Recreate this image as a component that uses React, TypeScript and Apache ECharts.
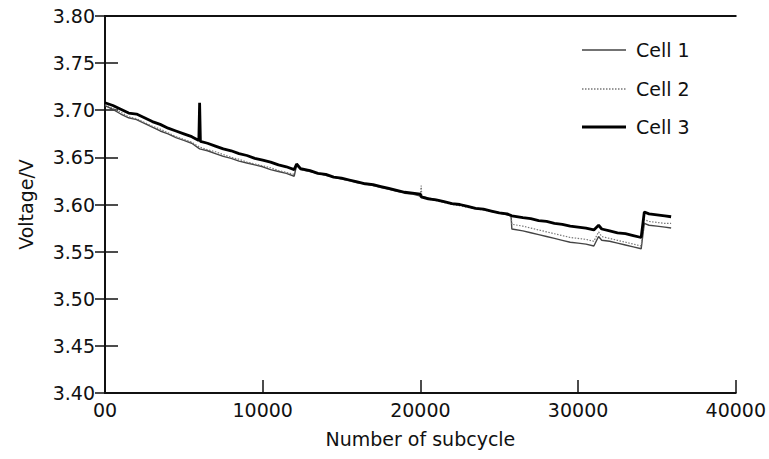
import React, { useEffect, useRef } from "react";
import * as echarts from "echarts";

const cell3X = [0, 500, 1000, 1500, 2000, 2500, 3000, 3500, 4000, 4500, 5000, 5500, 5950, 6000, 6050, 6500, 7000, 7500, 8000, 8500, 9000, 9500, 10000, 10500, 11000, 11500, 12000, 12150, 12400, 13000, 13500, 14000, 14500, 15000, 15500, 16000, 16500, 17000, 17500, 18000, 18500, 19000, 19500, 20000, 20050, 20500, 21000, 21500, 22000, 22500, 23000, 23500, 24000, 24500, 25000, 25500, 25800, 26500, 27000, 27500, 28000, 28500, 29000, 29500, 30000, 30500, 31000, 31300, 31500, 32000, 32500, 33000, 33500, 34000, 34200, 34500, 35000, 35500, 35900];
const cell3Y = [3.708, 3.705, 3.701, 3.697, 3.696, 3.692, 3.688, 3.685, 3.681, 3.678, 3.675, 3.672, 3.668, 3.708, 3.667, 3.665, 3.662, 3.659, 3.657, 3.654, 3.652, 3.649, 3.647, 3.645, 3.642, 3.640, 3.637, 3.643, 3.638, 3.636, 3.633, 3.632, 3.629, 3.628, 3.626, 3.624, 3.622, 3.621, 3.619, 3.617, 3.615, 3.613, 3.612, 3.611, 3.608, 3.606, 3.605, 3.603, 3.601, 3.600, 3.598, 3.596, 3.595, 3.593, 3.591, 3.590, 3.588, 3.586, 3.585, 3.583, 3.582, 3.580, 3.579, 3.577, 3.576, 3.575, 3.573, 3.578, 3.574, 3.572, 3.570, 3.569, 3.567, 3.565, 3.592, 3.590, 3.589, 3.588, 3.587];

const cell1X = [0, 500, 1000, 1500, 2000, 2500, 3000, 3500, 4000, 4500, 5000, 5500, 6000, 6500, 7000, 7500, 8000, 8500, 9000, 9500, 10000, 10500, 11000, 11500, 12000, 12150, 12400, 13000, 13500, 14000, 14500, 15000, 15500, 16000, 16500, 17000, 17500, 18000, 18500, 19000, 19500, 20000, 20500, 21000, 21500, 22000, 22500, 23000, 23500, 24000, 24500, 25000, 25500, 25750, 25800, 26500, 27000, 27500, 28000, 28500, 29000, 29500, 30000, 30500, 31000, 31300, 31500, 32000, 32500, 33000, 33500, 34000, 34200, 34500, 35000, 35500, 35900];
const cell1Y = [3.705, 3.701, 3.696, 3.692, 3.690, 3.686, 3.682, 3.678, 3.675, 3.671, 3.668, 3.665, 3.659, 3.657, 3.654, 3.651, 3.649, 3.646, 3.644, 3.642, 3.640, 3.637, 3.635, 3.633, 3.630, 3.642, 3.637, 3.635, 3.633, 3.631, 3.629, 3.627, 3.625, 3.623, 3.622, 3.620, 3.618, 3.616, 3.614, 3.612, 3.611, 3.609, 3.607, 3.605, 3.603, 3.601, 3.600, 3.598, 3.596, 3.595, 3.593, 3.591, 3.589, 3.588, 3.574, 3.572, 3.570, 3.568, 3.566, 3.564, 3.562, 3.560, 3.559, 3.558, 3.556, 3.566, 3.562, 3.561, 3.559, 3.557, 3.555, 3.553, 3.580, 3.578, 3.577, 3.576, 3.575];

const cell2X = [0, 500, 1000, 1500, 2000, 2500, 3000, 3500, 4000, 4500, 5000, 5500, 6000, 6500, 7000, 7500, 8000, 8500, 9000, 9500, 10000, 10500, 11000, 11500, 12000, 12150, 12400, 13000, 14000, 15000, 16000, 17000, 18000, 19000, 20000, 20050, 20100, 21000, 22000, 23000, 24000, 25000, 25750, 25800, 26500, 27000, 27500, 28000, 28500, 29000, 29500, 30000, 30500, 31000, 31300, 31500, 32000, 32500, 33000, 33500, 34000, 34200, 34500, 35000, 35500, 35900];
const cell2Y = [3.706, 3.702, 3.698, 3.693, 3.691, 3.687, 3.683, 3.680, 3.676, 3.672, 3.669, 3.666, 3.661, 3.658, 3.656, 3.653, 3.650, 3.648, 3.645, 3.643, 3.641, 3.639, 3.636, 3.634, 3.632, 3.641, 3.637, 3.635, 3.631, 3.627, 3.624, 3.620, 3.617, 3.613, 3.610, 3.620, 3.607, 3.604, 3.600, 3.597, 3.594, 3.591, 3.588, 3.579, 3.577, 3.575, 3.573, 3.571, 3.569, 3.567, 3.565, 3.564, 3.563, 3.561, 3.571, 3.566, 3.564, 3.562, 3.560, 3.558, 3.556, 3.584, 3.582, 3.581, 3.580, 3.580];

const seriesNames = ["Cell 1", "Cell 2", "Cell 3"];
const xTicks = [0, 10000, 20000, 30000, 40000];
const xTickLabels = ["00", "10000", "20000", "30000", "40000"];

const zip = (xs: number[], ys: number[]) => xs.map((x, i) => [x, ys[i]]);

const FONT = "'DejaVu Sans', sans-serif";
const INK = "#111";

const lineStyles = [
  { stroke: "#444", lineWidth: 1.5, lineDash: null as any },
  { stroke: "#777", lineWidth: 1.3, lineDash: [1.5, 1.5] },
  { stroke: "#000", lineWidth: 2.8, lineDash: null as any },
];

export default function App() {
  const ref = useRef<HTMLDivElement>(null);
  useEffect(() => {
    if (!ref.current) return;
    const chart = echarts.init(ref.current, null, { renderer: "svg" });
    const axisLine = { show: true, lineStyle: { color: INK, width: 2 } };
    const legendRowsY = [50, 89, 127];
    const legendGraphics: any[] = [];
    seriesNames.forEach((name, i) => {
      legendGraphics.push({
        type: "line",
        shape: { x1: 582, y1: legendRowsY[i], x2: 626, y2: legendRowsY[i] },
        style: { ...lineStyles[i] },
      });
      legendGraphics.push({
        type: "text",
        x: 636,
        y: legendRowsY[i],
        style: { text: name, font: `19px ${FONT}`, fill: INK, verticalAlign: "middle", align: "left" },
      });
    });
    chart.setOption({
      animation: false,
      backgroundColor: "#fff",
      textStyle: { fontFamily: FONT },
      grid: { left: 105, right: 32, top: 16, bottom: 66 },
      graphic: legendGraphics,
      xAxis: [
        {
          type: "value",
          min: 0,
          max: 40000,
          interval: 10000,
          name: "Number of subcycle",
          nameLocation: "middle",
          nameGap: 36,
          nameTextStyle: { fontSize: 19, color: INK, fontFamily: FONT },
          axisLine,
          axisTick: { show: true, inside: true, length: 13, lineStyle: { color: INK, width: 1.5 } },
          axisLabel: {
            fontSize: 19,
            color: INK,
            margin: 7,
            fontFamily: FONT,
            formatter: (v: number) => xTickLabels[xTicks.indexOf(v)] ?? String(v),
          },
          splitLine: { show: false },
        },
        {
          type: "value",
          position: "top",
          min: 0,
          max: 40000,
          interval: 10000,
          axisLine,
          axisTick: { show: false },
          axisLabel: { show: false },
          splitLine: { show: false },
        },
      ],
      yAxis: [
        {
          type: "value",
          min: 3.4,
          max: 3.8,
          interval: 0.05,
          name: "Voltage/V",
          nameLocation: "middle",
          nameGap: 70,
          nameTextStyle: { fontSize: 19, color: INK, fontFamily: FONT },
          axisLine,
          axisTick: { show: true, inside: true, length: 13, lineStyle: { color: INK, width: 1.5 } },
          axisLabel: {
            fontSize: 19,
            color: INK,
            margin: 10,
            fontFamily: FONT,
            formatter: (v: number) => v.toFixed(2),
          },
          splitLine: { show: false },
        },
        {
          type: "value",
          position: "right",
          min: 3.4,
          max: 3.8,
          interval: 0.05,
          axisLine,
          axisTick: { show: true, inside: true, length: 10, lineStyle: { color: INK, width: 1.5 } },
          axisLabel: { show: false },
          splitLine: { show: false },
        },
      ],
      series: [
        {
          name: "Cell 1",
          type: "line",
          symbol: "none",
          data: zip(cell1X, cell1Y),
          lineStyle: { color: "#444", width: 1.4 },
        },
        {
          name: "Cell 2",
          type: "line",
          symbol: "none",
          data: zip(cell2X, cell2Y),
          lineStyle: { color: "#777", width: 1.2, type: [1.5, 1.5] },
        },
        {
          name: "Cell 3",
          type: "line",
          symbol: "none",
          data: zip(cell3X, cell3Y),
          lineStyle: { color: "#000", width: 2.8 },
        },
      ],
    });
    return () => chart.dispose();
  }, []);
  return <div ref={ref} style={{ width: 769, height: 459, position: "absolute", left: 0, top: 0 }} />;
}
